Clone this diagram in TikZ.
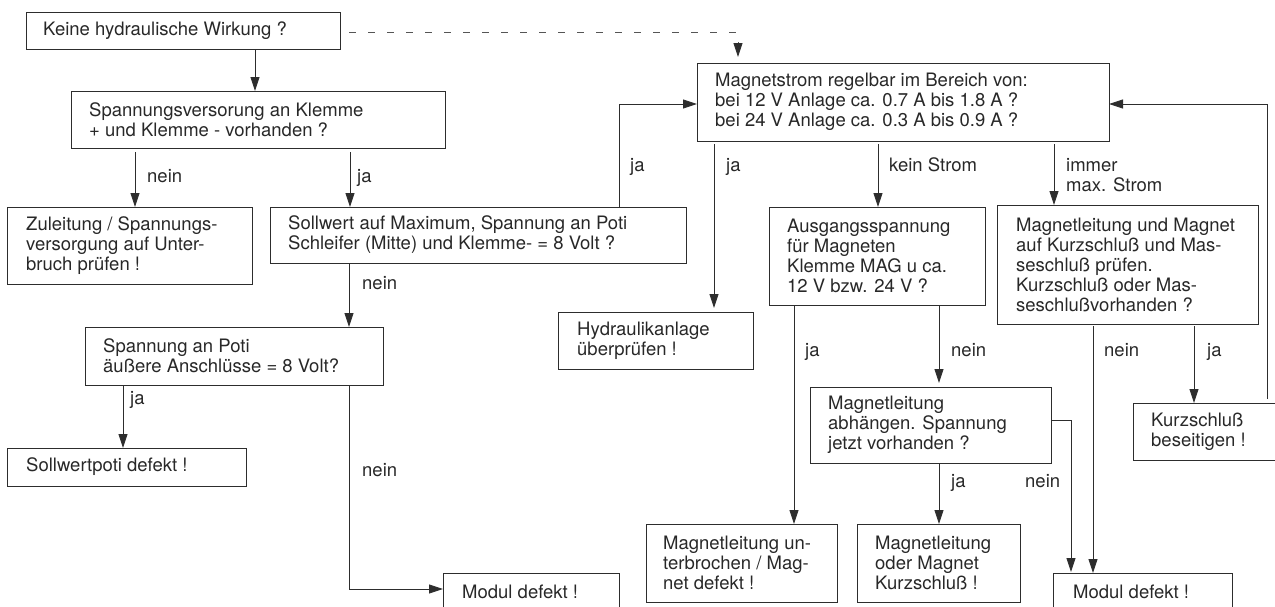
\documentclass[tikz,border=0pt]{standalone}
\usepackage{fontspec}
\setmainfont{TeX Gyre Heros}
\usetikzlibrary{arrows.meta}
\definecolor{ln}{RGB}{45,45,45}
\definecolor{tx}{RGB}{40,40,40}
\definecolor{dl}{RGB}{85,85,85}
\begin{document}
\begin{tikzpicture}[x=1pt,y=-1pt,
  box/.style={draw=ln, line width=0.9pt, anchor=north west, inner sep=0pt, outer sep=0pt},
  txt/.style={anchor=west, align=left, inner sep=0pt, font=\fontsize{18.5}{20}\selectfont, text=tx},
  lbl/.style={anchor=base west, inner sep=0pt, font=\fontsize{18.5}{20}\selectfont, text=tx},
  arr/.style={draw=ln, line width=0.9pt, -{Triangle[length=14pt,width=9pt]}},
  dashline/.style={draw=dl, line width=0.9pt, dash pattern=on 7pt off 12pt}]
\useasboundingbox (0,0) rectangle (1275,606);
\clip (0,0) rectangle (1275,606);

% boxes
\node[box, minimum width=314pt, minimum height=37pt] (k1) at (26,12) {};
\node[txt] at ([xshift=17pt]k1.west) {Keine hydraulische Wirkung ?};
\node[box, minimum width=374pt, minimum height=57pt] (k2) at (71,91) {};
\node[txt] at ([xshift=18pt]k2.west) {Spannungsversorung an Klemme\\+ und Klemme - vorhanden ?};
\node[box, minimum width=245pt, minimum height=77pt] (zul) at (7,207) {};
\node[txt] at ([xshift=19pt]zul.west) {Zuleitung / Spannungs-\\versorgung auf Unter-\\bruch prüfen !};
\node[box, minimum width=416pt, minimum height=56pt] (soll) at (270,207) {};
\node[txt] at ([xshift=18pt]soll.west) {Sollwert auf Maximum, Spannung an Poti\\Schleifer (Mitte) und Klemme- = 8 Volt ?};
\node[box, minimum width=298pt, minimum height=58pt] (poti) at (85,327) {};
\node[txt] at ([xshift=18pt]poti.west) {Spannung an Poti\\äußere Anschlüsse = 8 Volt?};
\node[box, minimum width=239pt, minimum height=38pt] (spd) at (7,448) {};
\node[txt] at ([xshift=19pt]spd.west) {Sollwertpoti defekt !};
\node[box, minimum width=176pt, minimum height=38pt] (mod1) at (443,573) {};
\node[txt] at ([xshift=19pt]mod1.west) {Modul defekt !};
\node[box, minimum width=412pt, minimum height=78pt] (ms) at (697,63) {};
\node[txt] at ([xshift=18pt]ms.west) {Magnetstrom regelbar im Bereich von:\\bei 12 V Anlage ca. 0.7 A bis 1.8 A ?\\bei 24 V Anlage ca. 0.3 A bis 0.9 A ?};
\node[box, minimum width=195pt, minimum height=57pt] (hyd) at (558,312) {};
\node[txt] at ([xshift=19pt]hyd.west) {Hydraulikanlage\\überprüfen !};
\node[box, minimum width=216pt, minimum height=98pt] (aus) at (769,207) {};
\node[txt] at ([xshift=18pt]aus.west) {Ausgangsspannung\\für Magneten\\Klemme MAG u ca.\\12 V bzw. 24 V ?};
\node[box, minimum width=261pt, minimum height=119pt] (mlu) at (997,205) {};
\node[txt] at ([xshift=19pt]mlu.west) {Magnetleitung und Magnet\\auf Kurzschluß und Mas-\\seschluß prüfen.\\Kurzschluß oder Mas-\\seschlußvorhanden ?};
\node[box, minimum width=150pt, minimum height=57pt] (kurz) at (1133,403) {};
\node[txt] at ([xshift=18pt]kurz.west) {Kurzschluß\\beseitigen !};
\node[box, minimum width=241pt, minimum height=76pt] (mab) at (810,387) {};
\node[txt] at ([xshift=18pt]mab.west) {Magnetleitung\\abhängen. Spannung\\jetzt vorhanden ?};
\node[box, minimum width=191pt, minimum height=78pt] (munt) at (646,524) {};
\node[txt] at ([xshift=17pt]munt.west) {Magnetleitung un-\\terbrochen / Mag-\\net defekt !};
\node[box, minimum width=163pt, minimum height=78pt] (mlk) at (857,524) {};
\node[txt] at ([xshift=18pt]mlk.west) {Magnetleitung\\oder Magnet\\Kurzschluß !};
\node[box, minimum width=179pt, minimum height=38pt] (mod2) at (1053,573) {};
\node[txt] at ([xshift=20pt]mod2.west) {Modul defekt !};

% column coordinates
\coordinate (c123) at (123,0);
\coordinate (c135) at (135,0);
\coordinate (c255) at (255,0);
\coordinate (c349) at (349,0);
\coordinate (c350) at (350,0);
\coordinate (c619) at (619,0);
\coordinate (c714) at (714,0);
\coordinate (c738) at (738,0);
\coordinate (c794) at (794,0);
\coordinate (c878) at (878,0);
\coordinate (c939) at (939,0);
\coordinate (c1054) at (1054,0);
\coordinate (c1071) at (1071,0);
\coordinate (c1093) at (1093,0);
\coordinate (c1194) at (1194,0);
\coordinate (c1267) at (1267,0);

% connectors
\draw[arr] (c255 |- k1.south) -- (c255 |- k2.north);
\draw[dashline] ([xshift=9pt,yshift=-1.5pt]k1.east) -| ([yshift=20pt]c738 |- ms.north);
\draw[arr] ([yshift=20pt]c738 |- ms.north) -- ([yshift=6pt]c738 |- ms.north);

\draw[arr, shorten <=4pt] (c135 |- k2.south) -- (c135 |- zul.north);
\node[lbl] at (147,182) {nein};
\draw[arr, shorten <=4pt] (c350 |- k2.south) -- (c350 |- soll.north);
\node[lbl] at (357,182) {ja};

\draw[arr] (c619 |- soll.north) |- ([yshift=-2pt]ms.west);
\node[lbl] at (630,171) {ja};

\draw[arr] (c349 |- soll.south) -- (c349 |- poti.north);
\node[lbl] at (362,289) {nein};
\draw[arr] (c123 |- poti.south) -- (c123 |- spd.north);
\node[lbl] at (130,404) {ja};
\draw[arr] (c349 |- poti.south) |- ([yshift=3pt]mod1.west);
\node[lbl] at (362,476) {nein};

\draw[arr, shorten <=3pt] (c714 |- ms.south) -- ([yshift=4pt]c714 |- hyd.north);
\node[lbl] at (726,171) {ja};
\draw[arr, shorten <=3pt] (c878 |- ms.south) -- (c878 |- aus.north);
\node[lbl] at (889,171) {kein Strom};
\draw[arr, shorten <=3pt] (c1054 |- ms.south) -- (c1054 |- mlu.north);
\node[lbl] at (1066,171) {immer};
\node[lbl] at (1066,191) {max. Strom};

\draw[arr] (c794 |- aus.south) -- (c794 |- munt.north);
\node[lbl] at (805,356) {ja};
\draw[arr] (c939 |- aus.south) -- ([yshift=4pt]c939 |- mab.north);
\node[lbl] at (951,356) {nein};

\draw[arr, shorten <=2pt] (c1093 |- mlu.south) -- (c1093 |- mod2.north);
\node[lbl] at (1104,356) {nein};
\draw[arr, shorten <=2pt] (c1194 |- mlu.south) -- (c1194 |- kurz.north);
\node[lbl] at (1207,356) {ja};

\draw[arr, shorten <=4pt] (c1267 |- kurz.north) |- ([yshift=-2pt]ms.east);

\draw[arr] (c939 |- mab.south) -- (c939 |- mlk.north);
\node[lbl] at (951,487) {ja};
\draw[arr] ([yshift=5pt]mab.east) -| ([yshift=1pt]c1071 |- mod2.north);
\node[lbl] at (1025,487) {nein};
\end{tikzpicture}
\end{document}
